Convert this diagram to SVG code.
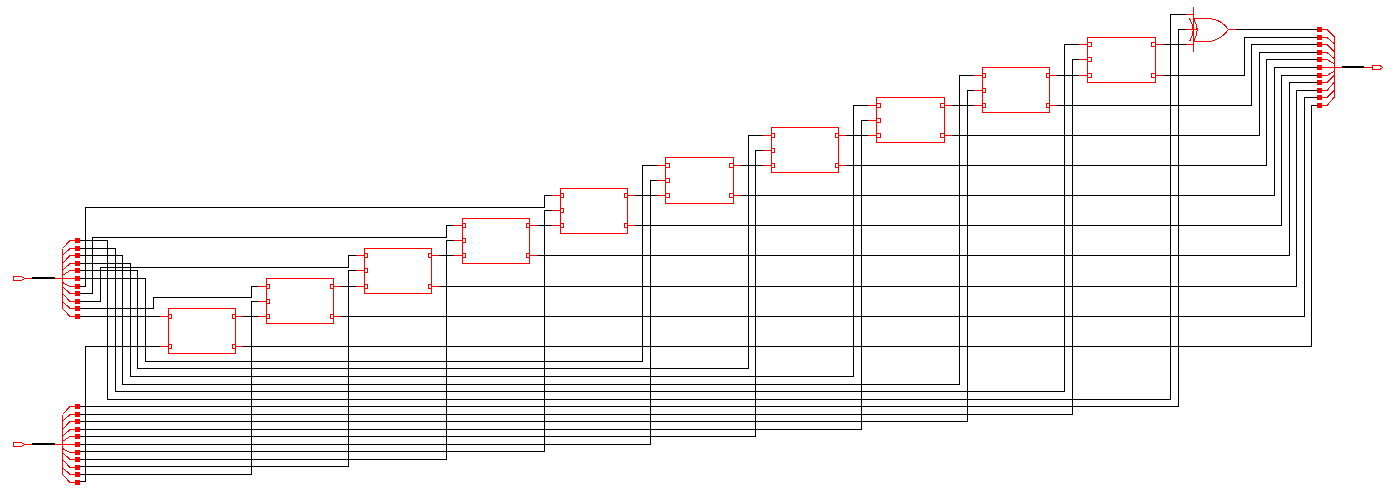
<svg xmlns="http://www.w3.org/2000/svg" width="1394" height="492" viewBox="0 0 1394 492">
<style>
path,rect{shape-rendering:crispEdges}
.w{fill:none;stroke:#000;stroke-width:1}
.t{fill:none;stroke:#000;stroke-width:2}
.r{fill:none;stroke:#f00;stroke-width:1}
.s{fill:#f00;stroke:none}
</style>
<defs>
<rect id="sq" class="s" x="-2.5" y="-2.5" width="5" height="5"/>
<rect id="p3" class="r" x="0" y="-2" width="3" height="4"/>
<rect id="p4" class="r" x="0" y="-2" width="4" height="4"/>
<g id="fanL">
<path class="r" d="M62.5 8V68M70 0H75M70 0L62.5 8M70 8H75M70 8L62.5 15M70 15H75M70 15L62.5 23M70 23H75M70 23L62.5 30M70 30H75M70 30L62.5 35M55 38H75M70 46H75M70 46L62.5 42M70 53H75M70 53L62.5 46M70 61H75M70 61L62.5 53M70 68H75M70 68L62.5 61M70 76H75M70 76L62.5 68"/>
<use href="#sq" x="77.5" y="0"/><use href="#sq" x="77.5" y="8"/><use href="#sq" x="77.5" y="15"/><use href="#sq" x="77.5" y="23"/><use href="#sq" x="77.5" y="30"/><use href="#sq" x="77.5" y="38"/><use href="#sq" x="77.5" y="46"/><use href="#sq" x="77.5" y="53"/><use href="#sq" x="77.5" y="61"/><use href="#sq" x="77.5" y="68"/><use href="#sq" x="77.5" y="76"/>
<path class="t" d="M32 37.500H55"/>
<path class="r" d="M13.500 36H21.500L24 37.500V38.500L21.500 40H13.500ZM24 38H32"/>
</g>
</defs>

<g id="connectors">
<path class="w" d="M80 240.500H107.500V399.500H1170.500V14.500H1185.500"/>
<path class="w" d="M80 248.500H115.500V391.500H1064.500V44.500H1079"/>
<path class="w" d="M80 255.500H122.500V384.500H959.500V75.500H974"/>
<path class="w" d="M80 263.500H130.500V376.500H853.500V105.500H868"/>
<path class="w" d="M80 270.500H137.500V368.500H748.500V135.500H763"/>
<path class="w" d="M80 278.500H145.500V361.500H642.500V165.500H657"/>
<path class="w" d="M80 286.500H85.500V207.500H544.500V195.500H552"/>
<path class="w" d="M80 293.500H92.500V237.500H446.500V225.500H454"/>
<path class="w" d="M80 301.500H100.500V267.500H348.500V255.500H356"/>
<path class="w" d="M80 308.500H153.500V297.500H251.500V286.500H258"/>
<path class="w" d="M80 316.500H160"/>
<path class="w" d="M80 406.500H1178.500V29.500H1185.500"/>
<path class="w" d="M80 414.500H1072.500V59.500H1079"/>
<path class="w" d="M80 421.500H967.500V90.500H974"/>
<path class="w" d="M80 429.500H861.500V120.500H868"/>
<path class="w" d="M80 436.500H755.500V150.500H763"/>
<path class="w" d="M80 444.500H650.500V180.500H657"/>
<path class="w" d="M80 451.500H544.500V210.500H552"/>
<path class="w" d="M80 459.500H446.500V240.500H454"/>
<path class="w" d="M80 466.500H348.500V270.500H356"/>
<path class="w" d="M80 474.500H251.500V301.500H258"/>
<path class="w" d="M80 481.500H85.500V346.500H160"/>
<path class="w" d="M243 316.500H258M341 286.500H356M439 255.500H454M537 225.500H552M635 195.500H657M741 165.500H763M846 135.500H868M952 105.500H974M1057 75.500H1079M1163 44.500H1185.500"/>
<path class="w" d="M1236 29.500H1317"/>
<path class="w" d="M1163 75.500H1244.500V37.500H1317"/>
<path class="w" d="M1057 105.500H1251.500V44.500H1317"/>
<path class="w" d="M952 135.500H1259.500V52.500H1317"/>
<path class="w" d="M846 165.500H1266.500V59.500H1317"/>
<path class="w" d="M741 195.500H1274.500V67.500H1317"/>
<path class="w" d="M635 225.500H1281.500V75.500H1317"/>
<path class="w" d="M537 255.500H1289.500V82.500H1317"/>
<path class="w" d="M439 286.500H1296.500V90.500H1317"/>
<path class="w" d="M341 316.500H1304.500V97.500H1317"/>
<path class="w" d="M243 346.500H1311.500V105.500H1317"/>
</g>

<g id="busA"><use href="#fanL" x="0" y="240.500"/></g>
<g id="busB"><use href="#fanL" x="0" y="406.500"/></g>

<g id="busOut">
<path class="r" d="M1334.500 37V97M1327 29.500H1322M1327 29.500L1334.500 37M1327 37.500H1322M1327 37.500L1334.500 44M1327 44.500H1322M1327 44.500L1334.500 52M1327 52.500H1322M1327 52.500L1334.500 59M1327 59.500H1322M1327 59.500L1334.500 64M1342 67.500H1322M1327 75.500H1322M1327 75.500L1334.500 71M1327 82.500H1322M1327 82.500L1334.500 75M1327 90.500H1322M1327 90.500L1334.500 82M1327 97.500H1322M1327 97.500L1334.500 90M1327 105.500H1322M1327 105.500L1334.500 97"/>
<use href="#sq" x="1319.500" y="29.500"/><use href="#sq" x="1319.500" y="37.500"/><use href="#sq" x="1319.500" y="44.500"/><use href="#sq" x="1319.500" y="52.500"/><use href="#sq" x="1319.500" y="59.500"/><use href="#sq" x="1319.500" y="67.500"/><use href="#sq" x="1319.500" y="75.500"/><use href="#sq" x="1319.500" y="82.500"/><use href="#sq" x="1319.500" y="90.500"/><use href="#sq" x="1319.500" y="97.500"/><use href="#sq" x="1319.500" y="105.500"/>
<path class="t" d="M1342 67H1364"/>
<path class="r" d="M1364 67.500H1372M1372.500 65.500H1380L1382 67V68L1380 69.500H1372.500Z"/>
</g>

<g id="block0">
<rect class="r" x="168.500" y="308.500" width="67" height="45"/>
<path class="r" d="M160 316.500H168M160 346.500H168M236 316.500H243M236 346.500H243"/>
<use href="#p3" x="168.500" y="316.500"/><use href="#p3" x="168.500" y="346.500"/><use href="#p3" x="232.500" y="316.500"/><use href="#p3" x="232.500" y="346.500"/>
</g>
<g id="block1">
<rect class="r" x="266.500" y="278.500" width="67" height="45"/>
<path class="r" d="M258 286.500H266M258 301.500H266M258 316.500H266M334 286.500H341M334 316.500H341"/>
<use href="#p3" x="266.500" y="286.500"/><use href="#p3" x="266.500" y="301.500"/><use href="#p3" x="266.500" y="316.500"/><use href="#p3" x="330.500" y="286.500"/><use href="#p3" x="330.500" y="316.500"/>
</g>
<g id="block2">
<rect class="r" x="364.500" y="248.500" width="67" height="45"/>
<path class="r" d="M356 255.500H364M356 270.500H364M356 286.500H364M432 255.500H439M432 286.500H439"/>
<use href="#p3" x="364.500" y="255.500"/><use href="#p3" x="364.500" y="270.500"/><use href="#p3" x="364.500" y="286.500"/><use href="#p3" x="428.500" y="255.500"/><use href="#p3" x="428.500" y="286.500"/>
</g>
<g id="block3">
<rect class="r" x="462.500" y="218.500" width="67" height="45"/>
<path class="r" d="M454 225.500H462M454 240.500H462M454 255.500H462M530 225.500H537M530 255.500H537"/>
<use href="#p3" x="462.500" y="225.500"/><use href="#p3" x="462.500" y="240.500"/><use href="#p3" x="462.500" y="255.500"/><use href="#p3" x="526.500" y="225.500"/><use href="#p3" x="526.500" y="255.500"/>
</g>
<g id="block4">
<rect class="r" x="560.500" y="188.500" width="67" height="45"/>
<path class="r" d="M552 195.500H560M552 210.500H560M552 225.500H560M628 195.500H635M628 225.500H635"/>
<use href="#p3" x="560.500" y="195.500"/><use href="#p3" x="560.500" y="210.500"/><use href="#p3" x="560.500" y="225.500"/><use href="#p3" x="624.500" y="195.500"/><use href="#p3" x="624.500" y="225.500"/>
</g>
<g id="block5">
<rect class="r" x="665.500" y="157.500" width="68" height="46"/>
<path class="r" d="M657 165.500H665M657 180.500H665M657 195.500H665M734 165.500H741M734 195.500H741"/>
<use href="#p4" x="665.500" y="165.500"/><use href="#p4" x="665.500" y="180.500"/><use href="#p4" x="665.500" y="195.500"/><use href="#p4" x="729.500" y="165.500"/><use href="#p4" x="729.500" y="195.500"/>
</g>
<g id="block6">
<rect class="r" x="771.500" y="127.500" width="67" height="45"/>
<path class="r" d="M763 135.500H771M763 150.500H771M763 165.500H771M839 135.500H846M839 165.500H846"/>
<use href="#p3" x="771.500" y="135.500"/><use href="#p3" x="771.500" y="150.500"/><use href="#p3" x="771.500" y="165.500"/><use href="#p3" x="835.500" y="135.500"/><use href="#p3" x="835.500" y="165.500"/>
</g>
<g id="block7">
<rect class="r" x="876.500" y="97.500" width="68" height="45"/>
<path class="r" d="M868 105.500H876M868 120.500H876M868 135.500H876M945 105.500H952M945 135.500H952"/>
<use href="#p4" x="876.500" y="105.500"/><use href="#p4" x="876.500" y="120.500"/><use href="#p4" x="876.500" y="135.500"/><use href="#p4" x="940.500" y="105.500"/><use href="#p4" x="940.500" y="135.500"/>
</g>
<g id="block8">
<rect class="r" x="982.500" y="67.500" width="67" height="45"/>
<path class="r" d="M974 75.500H982M974 90.500H982M974 105.500H982M1050 75.500H1057M1050 105.500H1057"/>
<use href="#p3" x="982.500" y="75.500"/><use href="#p3" x="982.500" y="90.500"/><use href="#p3" x="982.500" y="105.500"/><use href="#p3" x="1046.500" y="75.500"/><use href="#p3" x="1046.500" y="105.500"/>
</g>
<g id="block9">
<rect class="r" x="1087.500" y="37.500" width="68" height="45"/>
<path class="r" d="M1079 44.500H1087M1079 59.500H1087M1079 75.500H1087M1156 44.500H1163M1156 75.500H1163"/>
<use href="#p4" x="1087.500" y="44.500"/><use href="#p4" x="1087.500" y="59.500"/><use href="#p4" x="1087.500" y="75.500"/><use href="#p4" x="1151.500" y="44.500"/><use href="#p4" x="1151.500" y="75.500"/>
</g>

<g id="xor">
<path class="r" d="M1185.500 14.500H1193M1185.500 29.500H1197M1185.500 44.500H1193M1193.500 7V52"/>
<path class="r" d="M1193.500 18.500H1210Q1222 20 1228.500 29.500Q1222 39 1210 41.500H1193.500"/>
<path class="r" d="M1193.500 18.500Q1201 30 1193.500 41.500M1189.500 18.500Q1197 30 1189.500 41.500"/>
<path class="r" d="M1228.500 29.500H1236"/>
</g>
</svg>
